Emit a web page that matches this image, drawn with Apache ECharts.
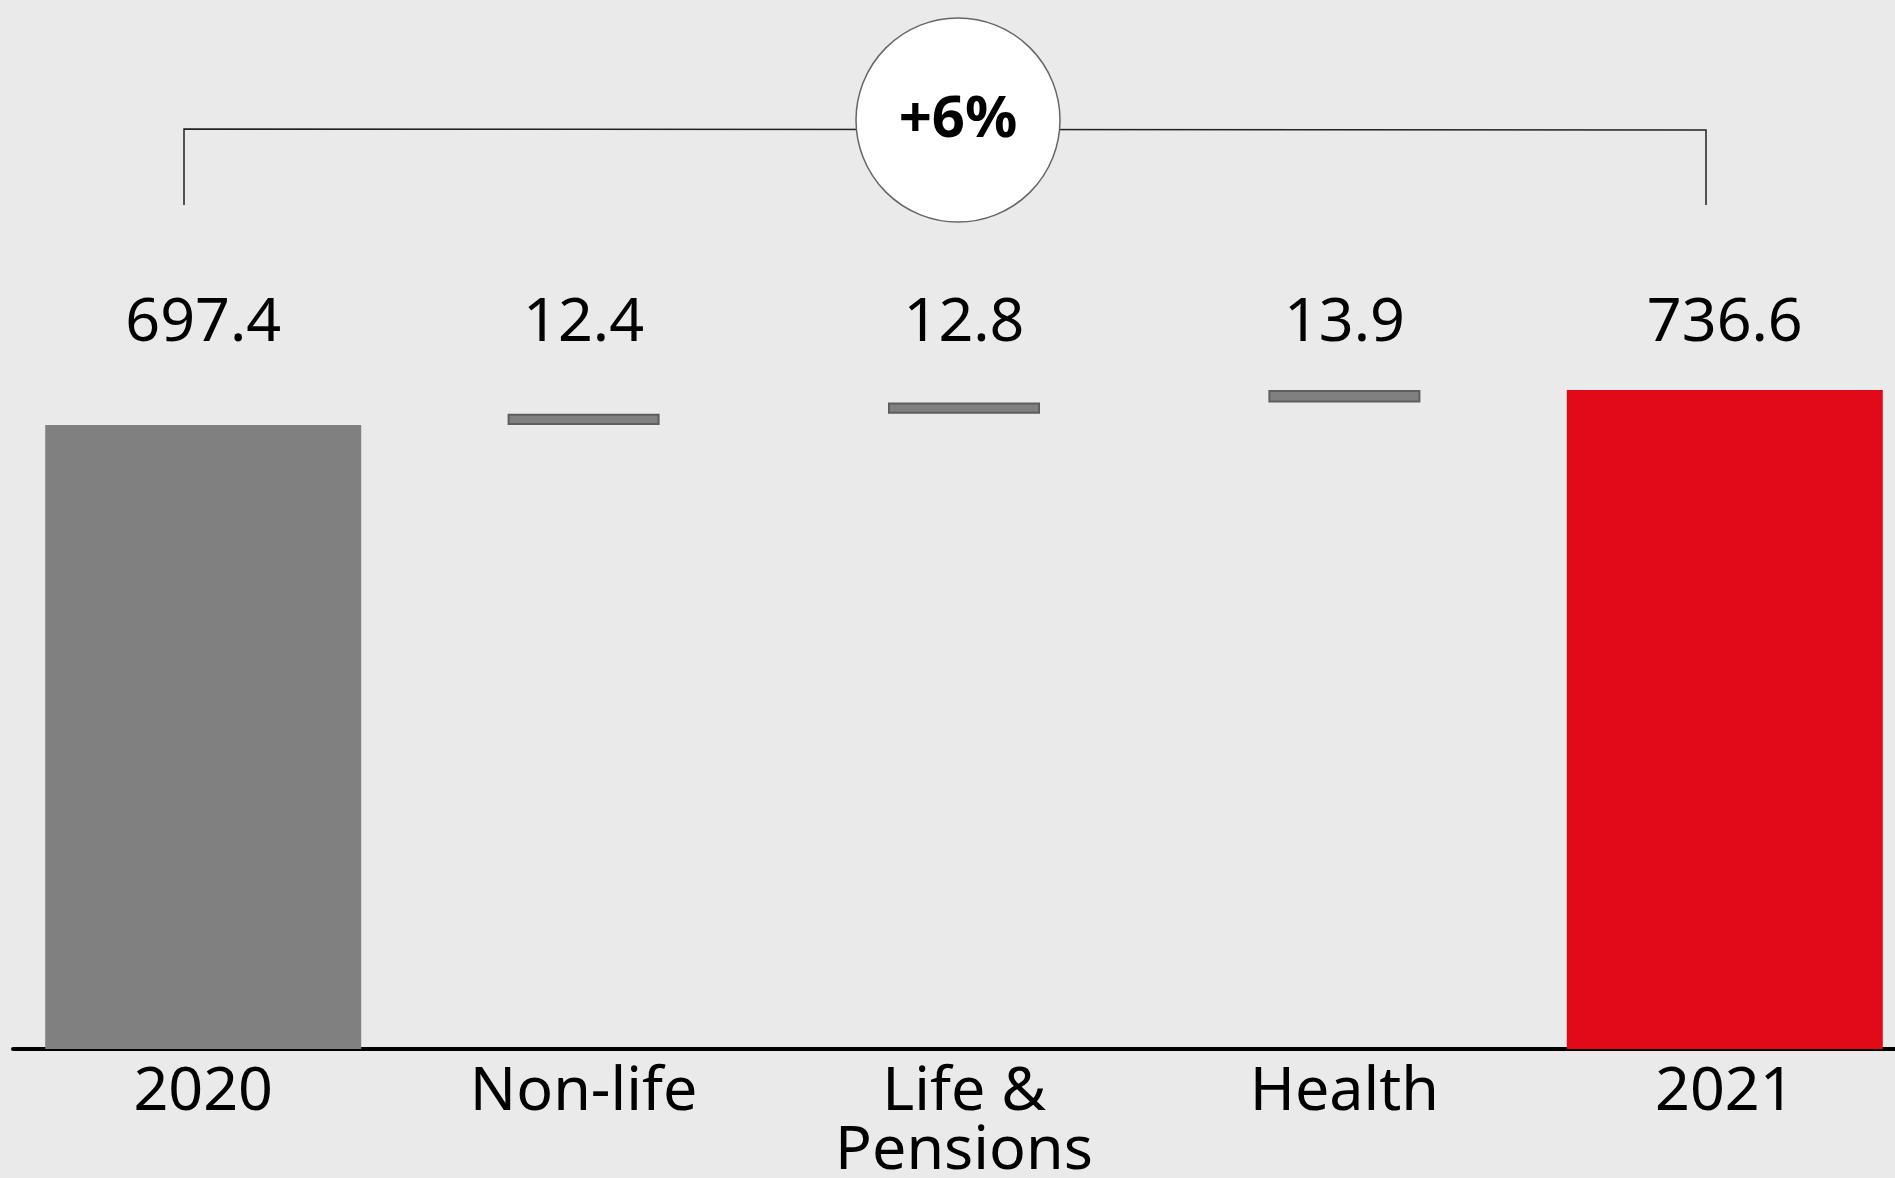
<!DOCTYPE html>
<html>
<head>
<meta charset="utf-8">
<script src="https://cdn.jsdelivr.net/npm/echarts@6/dist/echarts.min.js"></script>
<style>
  html, body { margin: 0; padding: 0; background: #eaeaea; overflow: hidden; }
  #chart { width: 1895px; height: 1178px; }
</style>
</head>
<body>
<div id="chart"></div>
<script>
// categories and values
const categories = ['2020', 'Non-life', 'Life &\nPensions', 'Health', '2021'];
const valueLabels = ['697.4', '12.4', '12.8', '13.9', '736.6'];
const totals = [697.4, '-', '-', '-', 736.6];
const deltaBase = ['-', 697.4, 709.8, 722.6, '-'];   // invisible stack under each step
const deltas = ['-', 12.4, 12.8, 13.9, '-'];
const changeText = '+6%';

const font = '"Noto Sans", "Open Sans", sans-serif';

let chart = echarts.init(document.getElementById('chart'));
chart.setOption({
  backgroundColor: '#eaeaea',
  animation: false,
  // the last category runs off the right edge in the original
  grid: { left: 13, right: -20, top: 360, bottom: 129, outerBoundsMode: 'none', containLabel: false },
  xAxis: [
    {
      type: 'category',
      data: categories,
      axisLine: { lineStyle: { color: '#000', width: 4 } },
      axisTick: { show: false },
      axisLabel: { color: '#000', fontFamily: font, fontSize: 61, lineHeight: 59, margin: 14 }
    },
    {
      // delta bars get their own axis so their narrow width centers on the category
      type: 'category',
      data: categories,
      show: false
    },
    {
      type: 'category',
      position: 'top',
      data: valueLabels,
      axisLine: { show: false },
      axisTick: { show: false },
      axisLabel: { color: '#000', fontFamily: font, fontSize: 61, lineHeight: 60, margin: 6 }
    }
  ],
  yAxis: {
    type: 'value',
    min: 0,
    max: 770,
    show: false,
    splitLine: { show: false }
  },
  series: [
    {
      name: 'total',
      type: 'bar',
      xAxisIndex: 0,
      barWidth: 316,
      data: [
        { value: totals[0], itemStyle: { color: '#808080' } },
        totals[1], totals[2], totals[3],
        { value: totals[4], itemStyle: { color: '#e20a18' } }
      ]
    },
    {
      name: 'base',
      type: 'bar',
      xAxisIndex: 1,
      stack: 'step',
      barWidth: 152,
      itemStyle: { color: 'transparent' },
      data: deltaBase
    },
    {
      name: 'delta',
      type: 'bar',
      xAxisIndex: 1,
      stack: 'step',
      barWidth: 152,
      itemStyle: { color: '#808080', borderColor: '#5e5e5e', borderWidth: 2 },
      data: deltas
    }
  ],
  graphic: [
    {
      type: 'polyline',
      shape: { points: [[184, 205], [184, 129], [1706, 130], [1706, 205]] },
      style: { stroke: '#222', lineWidth: 1.5, fill: null }
    },
    {
      type: 'circle',
      shape: { cx: 958, cy: 120, r: 102 },
      style: { fill: '#fff', stroke: '#666', lineWidth: 1.5 }
    },
    {
      type: 'text',
      x: 958,
      y: 120,
      style: {
        text: changeText,
        fill: '#000',
        font: 'bold 58px ' + font,
        align: 'center',
        verticalAlign: 'middle'
      }
    }
  ]
});
</script>
</body>
</html>
